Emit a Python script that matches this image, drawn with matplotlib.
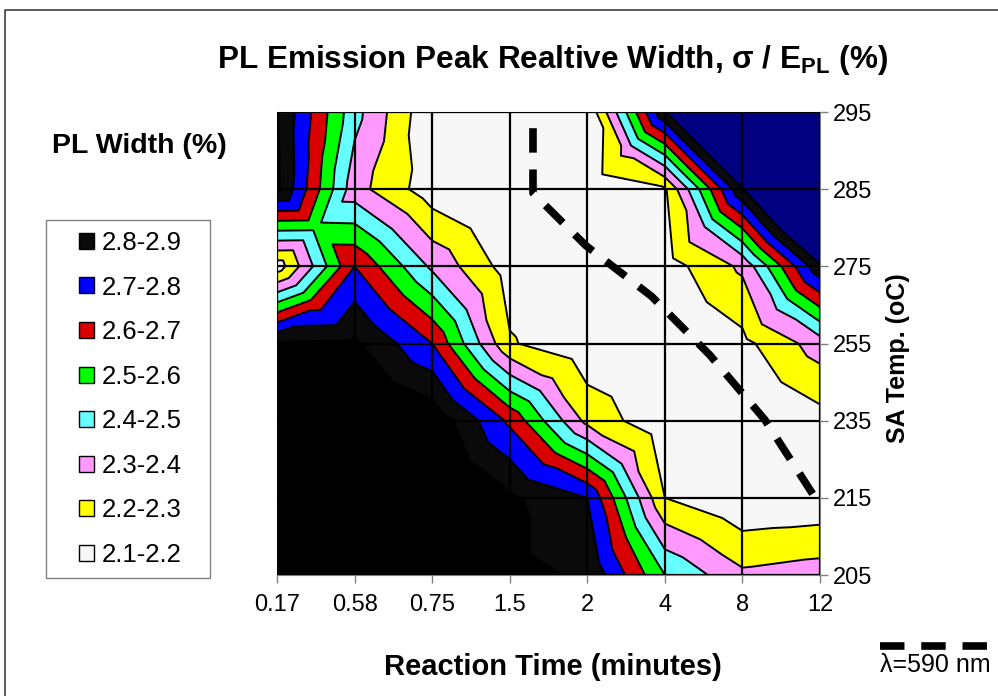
import numpy as np
import matplotlib
matplotlib.use("Agg")
import matplotlib.pyplot as plt
import matplotlib.tri as mtri
from matplotlib.colors import ListedColormap, BoundaryNorm
from matplotlib.patches import Patch, Rectangle
from matplotlib.lines import Line2D

plt.rcParams['font.family'] = ['Liberation Sans', 'DejaVu Sans']

# categories
times = ['0.17', '0.58', '0.75', '1.5', '2', '4', '8', '12']
temps = [205, 215, 235, 255, 275, 285, 295]

# PL width (%) per SA temperature row, one value per reaction time
w205 = [3.00, 3.00, 3.00, 2.92, 2.89, 2.50, 2.32, 2.35]
w215 = [3.00, 3.00, 3.00, 2.92, 2.80, 2.20, 2.11, 2.12]
w235 = [3.00, 3.00, 2.98, 2.68, 2.27, 2.12, 2.12, 2.16]
w255 = [2.91, 2.92, 2.70, 2.21, 2.12, 2.12, 2.17, 2.35]
w275 = [2.14, 2.70, 2.38, 2.15, 2.12, 2.15, 2.32, 2.88]
w285 = [2.92, 2.34, 2.14, 2.12, 2.12, 2.19, 2.89, 3.60]
w295 = [2.91, 2.435, 2.113, 2.12, 2.11, 2.89, 3.60, 3.60]

# lambda = 590 nm line (category positions)
lam_t = [3.3, 3.3, 3.98, 4.83, 5.58, 6.29, 6.97]
lam_T = [5.79, 4.95, 4.27, 3.61, 2.85, 2.01, 0.95]

levels = [2.1, 2.2, 2.3, 2.4, 2.5, 2.6, 2.7, 2.8, 2.9]
band_labels = ['2.1-2.2', '2.2-2.3', '2.3-2.4', '2.4-2.5',
               '2.5-2.6', '2.6-2.7', '2.7-2.8', '2.8-2.9']
band_colors = ['#f7f7f7', '#ffff00', '#ff99ff', '#66ffff',
               '#00ff00', '#d80000', '#0000ff', '#0a0a0a']


def excel_grid(z, col0=0):
    # Excel splits every grid cell into 4 triangles around its centre
    ny, nx = z.shape
    xs, ys, vs = [], [], []
    for j in range(ny):
        for i in range(nx):
            xs.append(i + col0)
            ys.append(j)
            vs.append(z[j, i])
    tris = []
    for j in range(ny - 1):
        for i in range(nx - 1):
            bl = j * nx + i
            br, tl = bl + 1, bl + nx
            tr = tl + 1
            c = len(xs)
            xs.append(i + col0 + 0.5)
            ys.append(j + 0.5)
            vs.append((z[j, i] + z[j, i + 1] + z[j + 1, i] + z[j + 1, i + 1]) / 4)
            tris += [[bl, br, c], [br, tr, c], [tr, tl, c], [tl, bl, c]]
    return mtri.Triangulation(xs, ys, tris), np.array(vs)


Z = np.array([w205, w215, w235, w255, w275, w285, w295])
ny, nx = Z.shape
tri, vals = excel_grid(Z)

cmap = ListedColormap(band_colors).with_extremes(under='#f7f7f7', over='#000000')
norm = BoundaryNorm(levels, cmap.N)

fig = plt.figure(figsize=(9.98, 6.96), dpi=100)
ax = fig.add_axes([277 / 998, 1 - 575 / 696, (820 - 277) / 998, (575 - 112) / 696])

ax.tricontourf(tri, vals, levels=levels, cmap=cmap, norm=norm, extend='both')
# Excel shows the above-range part at long times (4-12 min) in navy
c0 = times.index('4')
tri_r, vals_r = excel_grid(Z[:, c0:], c0)
ax.tricontourf(tri_r, vals_r, levels=[2.9, Z.max() + 1], colors=['#000080'])
ax.tricontour(tri, vals, levels=levels[1:], colors='k', linewidths=1.4)

ax.plot(lam_t, lam_T, color='k', lw=5.5, linestyle=(0, (3.2, 2.2)),
        dash_capstyle='butt', zorder=4)

ax.set_xlim(0, nx - 1)
ax.set_ylim(0, ny - 1)
ax.set_xticks(range(nx), times)
ax.set_yticks(range(ny), [str(t) for t in temps])
ax.yaxis.tick_right()
ax.tick_params(axis='both', labelsize=17, color='#808080', length=6, width=1)
ax.tick_params(axis='x', pad=8)
ax.tick_params(axis='y', pad=3)
ax.grid(True, color='k', lw=1.6)
ax.set_axisbelow(False)
for s in ax.spines.values():
    s.set_color('#808080')

fig.text(552 / 998, 1 - 68 / 696,
         r'PL Emission Peak Realtive Width, σ / E$_{\mathregular{PL}}$ (%)',
         ha='center', va='baseline', fontsize=22.7, fontweight='bold')
fig.text(553 / 998, 1 - 667 / 696, 'Reaction Time (minutes)',
         ha='center', va='center', fontsize=21, fontweight='bold')
fig.text(898 / 998, 1 - 358 / 696, 'SA Temp. (oC)', rotation=90,
         ha='center', va='center', fontsize=18, fontweight='bold')
fig.text(52 / 998, 1 - 153 / 696, 'PL Width (%)',
         ha='left', va='baseline', fontsize=20.5, fontweight='bold')

# legend
fig.add_artist(Rectangle((46 / 998, 1 - 578 / 696), 164 / 998, 358 / 696,
                         transform=fig.transFigure, fill=False,
                         edgecolor='#808080', lw=1))
handles = [Patch(facecolor=c, edgecolor='k', lw=1) for c in band_colors[::-1]]
fig.legend(handles, band_labels[::-1], loc='upper left',
           bbox_to_anchor=(79 / 998, 1 - 231 / 696), frameon=False,
           fontsize=18.5, borderpad=0, borderaxespad=0,
           handlelength=0.58, handleheight=0.58, handletextpad=0.3,
           labelspacing=0.80)

# lambda legend
fig.add_artist(Line2D([880 / 998, 992 / 998], [1 - 646 / 696] * 2,
                      transform=fig.transFigure, color='k', lw=5.5,
                      linestyle=(0, (3.2, 2.2)), dash_capstyle='butt'))
fig.text(935 / 998, 1 - 665 / 696, 'λ=590 nm', ha='center', va='center',
         fontsize=18)

# chart area border
fig.add_artist(Line2D([5 / 998, 5 / 998, 1.0], [0, 1 - 10 / 696, 1 - 10 / 696],
                      transform=fig.transFigure, color='#404040', lw=1.2))

fig.savefig('out.png', dpi=100)
